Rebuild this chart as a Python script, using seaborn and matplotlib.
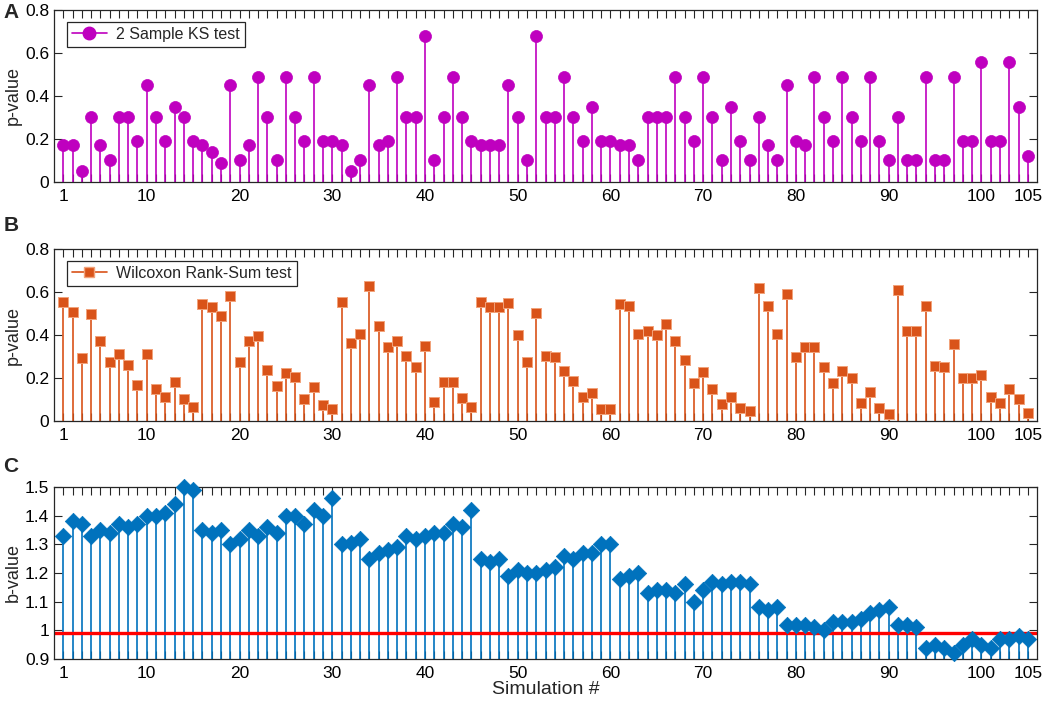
import numpy as np
import pandas as pd
import matplotlib
matplotlib.use("Agg")
import matplotlib.pyplot as plt
from matplotlib.lines import Line2D
from matplotlib.legend_handler import HandlerLine2D
from matplotlib.ticker import FixedLocator, FuncFormatter
import seaborn as sns

# simulation numbers 1..105
sim = list(range(1, 106))

# panel A: 2 sample KS test p-values
ks_p = [0.17, 0.17, 0.05, 0.30, 0.17, 0.10, 0.30, 0.30, 0.19, 0.45,
        0.30, 0.19, 0.35, 0.30, 0.19, 0.17, 0.14, 0.09, 0.45, 0.10,
        0.17, 0.49, 0.30, 0.10, 0.49, 0.30, 0.19, 0.49, 0.19, 0.19,
        0.17, 0.05, 0.10, 0.45, 0.17, 0.19, 0.49, 0.30, 0.30, 0.68,
        0.10, 0.30, 0.49, 0.30, 0.19, 0.17, 0.17, 0.17, 0.45, 0.30,
        0.10, 0.68, 0.30, 0.30, 0.49, 0.30, 0.19, 0.35, 0.19, 0.19,
        0.17, 0.17, 0.10, 0.30, 0.30, 0.30, 0.49, 0.30, 0.19, 0.49,
        0.30, 0.10, 0.35, 0.19, 0.10, 0.30, 0.17, 0.10, 0.45, 0.19,
        0.17, 0.49, 0.30, 0.19, 0.49, 0.30, 0.19, 0.49, 0.19, 0.10,
        0.30, 0.10, 0.10, 0.49, 0.10, 0.10, 0.49, 0.19, 0.19, 0.56,
        0.19, 0.19, 0.56, 0.35, 0.12]

# panel B: Wilcoxon rank-sum p-values
wrs_p = [0.555, 0.508, 0.295, 0.496, 0.371, 0.275, 0.314, 0.262, 0.169, 0.314,
         0.148, 0.112, 0.182, 0.101, 0.065, 0.542, 0.531, 0.488, 0.581, 0.275,
         0.371, 0.395, 0.239, 0.163, 0.221, 0.205, 0.101, 0.157, 0.073, 0.057,
         0.555, 0.365, 0.407, 0.629, 0.441, 0.343, 0.371, 0.303, 0.252, 0.350,
         0.089, 0.182, 0.182, 0.107, 0.067, 0.555, 0.531, 0.531, 0.550, 0.399,
         0.275, 0.503, 0.303, 0.297, 0.233, 0.188, 0.113, 0.130, 0.057, 0.057,
         0.544, 0.533, 0.405, 0.418, 0.402, 0.452, 0.371, 0.286, 0.177, 0.228,
         0.148, 0.079, 0.112, 0.061, 0.045, 0.620, 0.533, 0.407, 0.590, 0.297,
         0.343, 0.343, 0.252, 0.177, 0.233, 0.199, 0.085, 0.135, 0.062, 0.033,
         0.607, 0.418, 0.418, 0.533, 0.256, 0.252, 0.360, 0.199, 0.199, 0.216,
         0.112, 0.084, 0.148, 0.103, 0.037]

# panel C: b-values
b_val = [1.33, 1.38, 1.37, 1.33, 1.35, 1.34, 1.37, 1.36, 1.37, 1.40,
         1.40, 1.41, 1.44, 1.50, 1.49, 1.35, 1.34, 1.35, 1.30, 1.32,
         1.35, 1.33, 1.36, 1.34, 1.40, 1.40, 1.37, 1.42, 1.40, 1.46,
         1.30, 1.305, 1.32, 1.25, 1.27, 1.28, 1.29, 1.33, 1.32, 1.33,
         1.34, 1.34, 1.37, 1.36, 1.42, 1.25, 1.24, 1.25, 1.19, 1.21,
         1.20, 1.20, 1.21, 1.22, 1.26, 1.25, 1.27, 1.27, 1.30, 1.30,
         1.18, 1.19, 1.20, 1.13, 1.14, 1.14, 1.13, 1.16, 1.10, 1.14,
         1.17, 1.16, 1.17, 1.17, 1.16, 1.08, 1.07, 1.08, 1.02, 1.02,
         1.02, 1.01, 1.00, 1.03, 1.03, 1.03, 1.04, 1.06, 1.07, 1.08,
         1.02, 1.02, 1.01, 0.94, 0.95, 0.94, 0.92, 0.95, 0.97, 0.95,
         0.94, 0.97, 0.97, 0.98, 0.97]
b_ref = 0.99

x_labels = [1, 10, 20, 30, 40, 50, 60, 70, 80, 90, 100, 105]

col_ks = "#BF00BF"
col_wrs = "#D95319"
col_b = "#0072BD"

sns.set_style("ticks")
plt.rcParams["font.family"] = ["Liberation Sans", "DejaVu Sans"]

df = pd.DataFrame({"sim": sim, "ks": ks_p, "wrs": wrs_p, "b": b_val})


class EndMarker(HandlerLine2D):
    # MATLAB-style stem legend: line with the marker at its right end
    def get_xdata(self, legend, xdescent, ydescent, width, height, fontsize):
        xdata = np.array([-xdescent, -xdescent + width])
        return xdata, np.array([-xdescent + width])


def style_axis(ax, ylim, yticks, ylabel):
    ax.set_xlim(0, 106)
    ax.set_ylim(*ylim)
    ax.xaxis.set_major_locator(FixedLocator(sim))
    ax.xaxis.set_major_formatter(FuncFormatter(lambda v, p: str(int(v)) if int(v) in x_labels else ""))
    ax.set_yticks(yticks)
    ax.set_yticklabels([f"{t:g}" for t in yticks])
    ax.tick_params(axis="both", direction="in", length=6, width=0.8, colors="#262626",
                   labelsize=12.5, top=True, right=True, labelcolor="black")
    ax.tick_params(axis="x", pad=5)
    for s in ax.spines.values():
        s.set_color("#262626")
        s.set_linewidth(0.9)
    ax.set_ylabel(ylabel, fontsize=13)
    ax.yaxis.set_label_coords(-0.033, 0.5)
    ax.set_xlabel("")


def add_legend(ax, handle, text):
    leg = ax.legend([handle], [text], handler_map={handle: EndMarker()}, loc="upper left",
                    bbox_to_anchor=(0.013, 0.93), borderaxespad=0, fancybox=False,
                    edgecolor="#262626", framealpha=1, fontsize=11.5, handlelength=2.2,
                    handletextpad=0.6, borderpad=0.3)
    leg.get_frame().set_linewidth(0.9)


fig = plt.figure(figsize=(10.45, 7.01), dpi=100)
axA = fig.add_axes([0.0517, 0.7404, 0.9407, 0.2454])
axB = fig.add_axes([0.0517, 0.3994, 0.9407, 0.2454])
axC = fig.add_axes([0.0517, 0.0599, 0.9407, 0.2454])

# A
axA.vlines(df["sim"], 0, df["ks"], color=col_ks, lw=1.2, zorder=2)
sns.scatterplot(data=df, x="sim", y="ks", ax=axA, marker="o", s=75, color=col_ks,
                edgecolor=col_ks, linewidth=0.5, zorder=3, clip_on=False)
style_axis(axA, (0, 0.8), [0, 0.2, 0.4, 0.6, 0.8], "p-value")
hA = Line2D([], [], color=col_ks, lw=1.2, marker="o", markersize=9, markerfacecolor=col_ks,
            markeredgecolor=col_ks)
add_legend(axA, hA, "2 Sample KS test")

# B
axB.vlines(df["sim"], 0, df["wrs"], color=col_wrs, lw=1.2, zorder=2)
sns.scatterplot(data=df, x="sim", y="wrs", ax=axB, marker="s", s=50, color=col_wrs,
                edgecolor="#F2A27A", linewidth=0.7, zorder=3, clip_on=False)
style_axis(axB, (0, 0.8), [0, 0.2, 0.4, 0.6, 0.8], "p-value")
hB = Line2D([], [], color=col_wrs, lw=1.2, marker="s", markersize=7, markerfacecolor=col_wrs,
            markeredgecolor="#F2A27A")
add_legend(axB, hB, "Wilcoxon Rank-Sum test")

# C
axC.vlines(df["sim"], 0.9, df["b"], color=col_b, lw=1.2, zorder=2)
axC.axhline(b_ref, color="red", lw=2.4, zorder=2.5)
sns.scatterplot(data=df, x="sim", y="b", ax=axC, marker="D", s=70, color=col_b,
                edgecolor=col_b, linewidth=0.5, zorder=3, clip_on=False)
style_axis(axC, (0.9, 1.5), [0.9, 1, 1.1, 1.2, 1.3, 1.4, 1.5], "b-value")
axC.set_xlabel("Simulation #", fontsize=14, labelpad=0)

for lab, yy in [("A", 0.982), ("B", 0.679), ("C", 0.334)]:
    fig.text(0.003, yy, lab, fontsize=15, fontweight="bold", va="center", ha="left")

fig.savefig("out.png", dpi=100)
